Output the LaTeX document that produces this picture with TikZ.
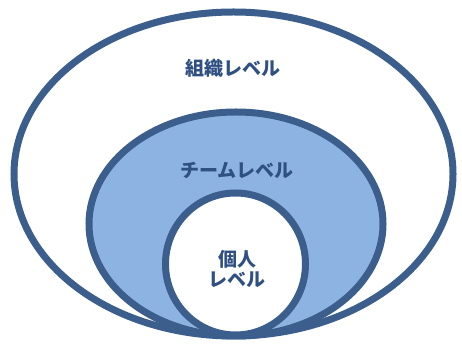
\documentclass[tikz,border=0pt]{standalone}
\usepackage{fontspec}
\newfontfamily\cjk{Noto Sans CJK JP}[BoldFont={Noto Sans CJK JP Black}]
\definecolor{ringblue}{HTML}{3B5E8C}
\definecolor{teamfill}{HTML}{8DB3E2}
\definecolor{textblue}{HTML}{2F5082}
\begin{document}
\begin{tikzpicture}[x=1pt,y=1pt,
  ring/.style={draw=ringblue,line width=7pt},
  lbl/.style={text=textblue,font=\cjk\bfseries\fontsize{19}{23}\selectfont,align=center}]
\useasboundingbox (0,0) rectangle (462,344);
\draw[ring,fill=white] (233.5,170) ellipse [x radius=219.5,y radius=162];
\draw[ring,fill=teamfill] (236,120) ellipse [x radius=147,y radius=112];
\draw[ring,fill=white] (235.5,80) ellipse [x radius=70,y radius=71];
\node[lbl] (org) at (233,276) {組織レベル};
\node[lbl] (team) at (237,174) {チームレベル};
\node[lbl] (ind) at (237,75) {個人\\[-3pt]レベル};
\end{tikzpicture}
\end{document}
